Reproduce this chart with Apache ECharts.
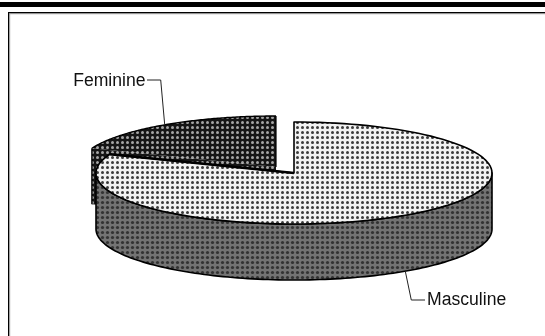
<!DOCTYPE html>
<html><head><meta charset="utf-8">
<style>html,body{margin:0;padding:0;background:#fff}#c{width:545px;height:336px}</style>
<script src="https://cdn.jsdelivr.net/npm/echarts@6/dist/echarts.min.js"></script>
</head><body><div id="c"></div>
<script>
var categories = ['Masculine', 'Feminine'];
var shares = [81, 19];

var chart = echarts.init(document.getElementById('c'), null, {renderer: 'canvas'});

function dots(bg, dot, size, r) {
  var c = document.createElement('canvas');
  c.width = size; c.height = size;
  var g = c.getContext('2d');
  g.fillStyle = bg; g.fillRect(0, 0, size, size);
  g.fillStyle = dot;
  g.beginPath(); g.arc(size / 2, size / 2, r, 0, Math.PI * 2); g.fill();
  return {image: c, repeat: 'repeat'};
}
var fills = {
  topM: dots('#f2f2f2', '#3c3c3c', 5, 1.5),
  wallM: dots('#737373', '#333333', 5, 1.6),
  darkF: dots('#151515', '#a6a6a6', 5, 1.5)
};

var CX = 294, CY = 173, RX = 198, RY = 51, DEPTH = 56, OFF = [-18, -6];
var total = shares[0] + shares[1];
var femAngle = shares[1] / total * Math.PI * 2;

function pt(a, dx, dy) {
  return [CX + dx + RX * Math.sin(a), CY + dy - RY * Math.cos(a)];
}
function arc(a0, a1, dx, dy) {
  var n = 120, out = [];
  for (var i = 0; i <= n; i++) out.push(pt(a0 + (a1 - a0) * i / n, dx, dy));
  return out;
}
function poly(points, fill, lw) {
  return {type: 'polygon', shape: {points: points},
    style: {fill: fill, stroke: lw ? '#000' : null, lineWidth: lw || 0, lineJoin: 'round'}};
}
function line(pts, lw, color) {
  return {type: 'polyline', shape: {points: pts},
    style: {fill: null, stroke: color || '#000', lineWidth: lw, lineJoin: 'round'}};
}
function text(s, x, y, align) {
  return {type: 'text', style: {text: s, x: x, y: y, align: align, verticalAlign: 'middle',
    font: '17.6px "Liberation Sans", Arial, sans-serif', fill: '#111'}};
}

function renderItem(params) {
  if (params.dataIndex !== 0) return null;
  var kids = [];
  // Feminine slice: pulled out, drawn first (behind)
  var fOuter = arc(-femAngle, 0, OFF[0], OFF[1]);
  var left = fOuter[0];
  var fApex = [CX + OFF[0], CY + OFF[1]];
  kids.push(poly([left, [left[0], left[1] + DEPTH], [fApex[0], fApex[1] + DEPTH], fApex], fills.darkF));
  kids.push(poly(fOuter.concat([fApex]), fills.darkF));
  kids.push(line(fOuter, 1.4));
  kids.push(line([left, [left[0], left[1] + DEPTH]], 1.4));
  kids.push(line([fOuter[fOuter.length - 1], fApex], 1.2));

  // Masculine wall: visible front of the rim
  var wallTop = arc(Math.PI / 2, Math.PI * 1.5, 0, 0);
  var wallBot = arc(Math.PI * 1.5, Math.PI / 2, 0, DEPTH);
  kids.push(poly(wallTop.concat(wallBot), fills.wallM, 1.6));

  // Masculine top
  var mOuter = arc(0, Math.PI * 2 - femAngle, 0, 0);
  kids.push(poly(mOuter.concat([[CX, CY]]), fills.topM, 1.6));
  kids.push(line([mOuter[mOuter.length - 1], [CX, CY]], 2.4));

  // Leaders and labels, anchored on each slice's mid angle
  var fMid = pt(-femAngle / 2, OFF[0], OFF[1]);
  kids.push(line([fMid, [fMid[0] - 4, 80], [147, 80]], 1, '#222'));
  kids.push(text(categories[1], 145.5, 81, 'right'));

  var mMid = pt((Math.PI * 2 - femAngle) / 2, 0, DEPTH);
  kids.push(line([mMid, [mMid[0] + 6, 300], [425, 300]], 1, '#222'));
  kids.push(text(categories[0], 427, 300, 'left'));
  return {type: 'group', children: kids};
}

chart.setOption({
  animation: false,
  backgroundColor: '#fff',
  graphic: [
    {type: 'rect', shape: {x: 0, y: 2, width: 545, height: 5}, style: {fill: '#000'}, silent: true},
    {type: 'rect', shape: {x: 8, y: 12, width: 537, height: 1.4}, style: {fill: '#000'}, silent: true},
    {type: 'rect', shape: {x: 9, y: 13.4, width: 536, height: 0.8}, style: {fill: '#aaa'}, silent: true},
    {type: 'rect', shape: {x: 8, y: 12, width: 1.4, height: 324}, style: {fill: '#000'}, silent: true},
    {type: 'rect', shape: {x: 9.4, y: 13, width: 0.8, height: 323}, style: {fill: '#aaa'}, silent: true}
  ],
  xAxis: {show: false, type: 'value', min: 0, max: 545},
  yAxis: {show: false, type: 'value', min: 0, max: 336},
  grid: {left: 0, right: 0, top: 0, bottom: 0},
  series: [{
    type: 'custom',
    coordinateSystem: 'none',
    silent: true,
    data: categories.map(function (c, i) { return {name: c, value: shares[i]}; }),
    renderItem: renderItem
  }]
});
</script></body></html>
